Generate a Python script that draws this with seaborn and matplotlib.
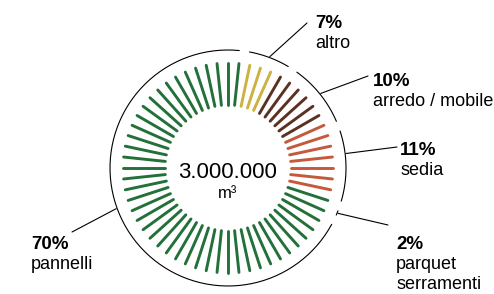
import numpy as np
import pandas as pd
import seaborn as sns
import matplotlib.pyplot as plt

# Data
categories = ["altro", "arredo / mobile", "sedia", "parquet\nserramenti", "pannelli"]
percents = [7, 10, 11, 2, 70]
tick_counts = [3, 6, 7, 1, 43]
colors = ["#cdb23f", "#5b3221", "#c4593b", "#23703a", "#23703a"]
total_label = "3.000.000"
unit_label = "m³"

sns.set_theme(style="white")
plt.rcParams['font.family'] = ['Liberation Sans', 'DejaVu Sans']
plt.rcParams['text.color'] = 'black'

fig = plt.figure(figsize=(4.94, 2.94), dpi=100)
ax = fig.add_axes([0, 0, 1, 1])
ax.set_xlim(0, 494)
ax.set_ylim(294, 0)
ax.set_aspect('equal')
ax.axis('off')

cx, cy = 228, 168
r_in, r_out, r_arc = 63, 105, 118
n_ticks = sum(tick_counts)
step = 360 / n_ticks
first_tick = 2  # first yellow tick


def polar(r, deg):
    a = np.deg2rad(deg)
    return cx + r * np.sin(a), cy - r * np.cos(a)


# radial ticks, coloured by category
rows = []
idx = first_tick
for cat, n in zip(categories, tick_counts):
    for _ in range(n):
        ang = (idx % n_ticks) * step
        for r in (r_in, r_out):
            x, y = polar(r, ang)
            rows.append({"tick": idx, "cat": cat, "x": x, "y": y})
        idx += 1
ticks = pd.DataFrame(rows)
sns.lineplot(data=ticks, x="x", y="y", units="tick", hue="cat", palette=dict(zip(categories, colors)),
             estimator=None, sort=False, lw=2.1, legend=False, ax=ax)

# outer arc split by share
start = 8
gap = 2.5
mids = []
for p in percents:
    end = start + p * 3.6
    th = np.linspace(start + gap, end - gap, 80)
    x, y = polar(r_arc, th)
    ax.plot(x, y, color="black", lw=0.8)
    mids.append((start + end) / 2)
    start = end

# leader lines and labels
anchor_adj = [0, 0, -6, 0, 8]
label_pos = [(315, 28), (373, 86), (400, 155), (396, 249), (31, 249)]
line_end = [(307, 23), (368, 76), (397, 147), (388, 225), (72, 232)]
for cat, p, mid, adj, (lx, ly), (ex, ey) in zip(categories, percents, mids, anchor_adj, label_pos, line_end):
    sx, sy = polar(r_arc + 1, mid + adj)
    ax.plot([sx, ex], [sy, ey], color="black", lw=0.8)
    ax.text(lx, ly, f"{p}%", fontsize=13.5, fontweight="bold", ha="left", va="baseline")
    for i, line in enumerate(cat.split("\n")):
        ax.text(lx, ly + 20 * (i + 1), line, fontsize=13, ha="left", va="baseline")

ax.text(cx, 178, total_label, fontsize=16, ha="center", va="baseline")
ax.text(cx, 198, unit_label, fontsize=12, ha="center", va="baseline")

fig.savefig("out.png", dpi=100)
